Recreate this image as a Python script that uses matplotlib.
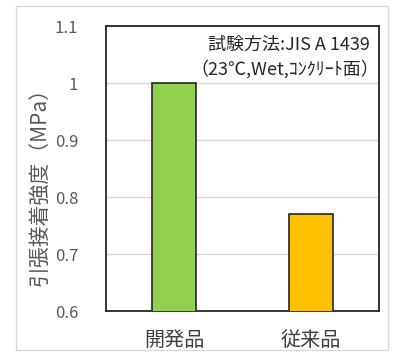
import matplotlib
matplotlib.use("Agg")
import matplotlib.pyplot as plt
from matplotlib.patches import Rectangle

plt.rcParams['font.family'] = ['Noto Sans CJK JP', 'DejaVu Sans']

# ---------- data ----------
categories = ["開発品", "従来品"]
strength = [1.0, 0.77]
bar_colors = ["#92d050", "#ffc000"]
y_ticks = [0.6, 0.7, 0.8, 0.9, 1.0, 1.1]
y_ticklabels = ["0.6", "0.7", "0.8", "0.9", "1", "1.1"]

fig = plt.figure(figsize=(3.98, 3.56), dpi=100)

# outer chart frame
fig.patches.append(Rectangle((16 / 398, 1 - 350 / 356), 372 / 398, 344 / 356,
                             transform=fig.transFigure, fill=False,
                             edgecolor="#d9d9d9", linewidth=1.0))

ax = fig.add_axes([106 / 398, 1 - 311 / 356, 273 / 398, 285 / 356])
x = range(len(categories))
ax.bar(x, strength, width=0.32, color=bar_colors, edgecolor="#262626",
       linewidth=1.2, zorder=3)

ax.set_xlim(-0.5, 1.5)
ax.set_ylim(0.6, 1.1)
ax.set_yticks(y_ticks)
ax.set_yticklabels(y_ticklabels)
ax.set_xticks(list(x))
ax.set_xticklabels(categories)
ax.tick_params(axis="y", length=0, pad=20, labelsize=12, labelcolor="#595959")
ax.tick_params(axis="x", length=0, pad=14, labelsize=14.5, labelcolor="#404040")
ax.grid(axis="y", color="#d9d9d9", linewidth=1.0, zorder=0)
for s in ax.spines.values():
    s.set_color("#262626")
    s.set_linewidth(1.3)

fig.text(40 / 398, 1 - 182 / 356, "引張接着強度（MPa）", rotation=90,
         ha="center", va="center", fontsize=15, color="#595959")

ax.text(0.965, 0.935, "試験方法:JIS A 1439", transform=ax.transAxes,
        ha="right", va="center", fontsize=13, color="#262626")
ax.text(1.0, 0.85, "（23℃,Wet,ｺﾝｸﾘｰﾄ面）", transform=ax.transAxes,
        ha="right", va="center", fontsize=13, color="#262626")

fig.savefig("out.png", dpi=100)
